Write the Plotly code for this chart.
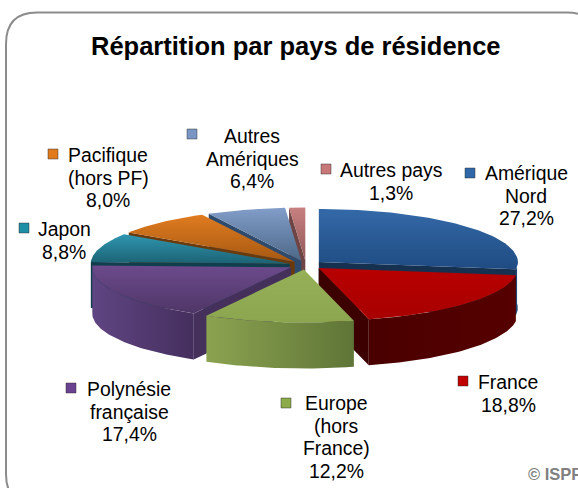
import numpy as np
import plotly.graph_objects as go

categories = ["Amérique Nord", "France", "Europe (hors France)", "Polynésie française",
              "Japon", "Pacifique (hors PF)", "Autres Amériques", "Autres pays"]
values = [27.2, 18.8, 12.2, 17.4, 8.8, 8.0, 6.4, 1.3]
label_names = [["Amérique", "Nord"], ["France"], ["Europe", "(hors", "France)"], ["Polynésie", "française"],
               ["Japon"], ["Pacifique", "(hors PF)"], ["Autres", "Amériques"], ["Autres pays"]]
title_text = "Répartition par pays de résidence"
credit_text = "© ISPF"

# styles: top gradient (far, near), cut face, wall gradient (left, right), key, rim
top_colors = [("#3469a8", "#1f4b82"), ("#b80000", "#a80000"), ("#96b058", "#8ca650"),
              ("#6c4a8c", "#4e3666"), ("#2f96b0", "#1c6274"), ("#e07c20", "#a65812"),
              ("#829dc8", "#4c6888"), ("#c88080", "#905858")]
face_colors = ["#16304f", "#3c0000", "#5f7537", "#44305a", "#103e4d", "#6a3a0c", "#2e4a6c", "#6e4444"]
wall_colors = [("#1f4b82", "#173a66"), ("#4a0000", "#560000"), ("#8ba350", "#5f7537"),
               ("#5f4582", "#452f5e"), ("#1c6274", "#145060"), ("#a65812", "#804410"),
               ("#4c6888", "#3c5470"), ("#905858", "#704444")]
key_colors = ["#2f67a8", "#c00000", "#8cac4a", "#6a4290", "#1f8fa8", "#e07a1c", "#7a96c4", "#c87878"]
# geometry / layout constants (pixels)
CX, CY, RX, RY, DEPTH = 306, 265, 199, 53, 46
PULL_X, PULL_Y = 17, 4.5
LINE_H = 22.7
key_xy = [(470, 173), (463, 381), (286, 403), (71, 388), (24, 228), (53, 154), (192, 134), (326, 169)]
label_xy = [(526, 173), (508, 382), (336, 403), (129, 389), (64, 229), (108, 155), (252, 136), (391, 170)]

fig = go.Figure()

total = sum(values)
edges = np.concatenate([[0.0], np.cumsum(values)]) / total * 2 * np.pi
mids = (edges[:-1] + edges[1:]) / 2
order = np.argsort(-np.cos(mids))


def poly(xs, ys, gradient=None, color=None):
    kw = dict(x=xs, y=ys, mode="lines", line=dict(width=0), fill="toself",
              hoverinfo="skip", showlegend=False)
    if gradient:
        kw["fillgradient"] = dict(type=gradient[0],
                                  colorscale=[[0, gradient[1]], [1, gradient[2]]])
    else:
        kw["fillcolor"] = color
    fig.add_trace(go.Scatter(**kw))


for i in order:
    a0, a1, m = edges[i], edges[i + 1], mids[i]
    ax = CX + PULL_X * np.sin(m)
    ay = CY - PULL_Y * np.cos(m)
    px = lambda t: ax + RX * np.sin(t)
    py = lambda t: ay - RY * np.cos(t)
    # outer wall
    lo, hi = max(a0, np.radians(85)), min(a1, np.radians(275))
    if hi > lo:
        t = np.linspace(lo, hi, 60)
        xs = np.concatenate([px(t), px(t)[::-1], px(t)[:1]])
        ys = np.concatenate([py(t), py(t)[::-1] + DEPTH, py(t)[:1]])
        poly(xs, ys, gradient=("horizontal", wall_colors[i][0], wall_colors[i][1]))
    # radial cut faces that look toward the viewer
    for t, visible in ((a0, np.sin(a0) < 0), (a1, np.sin(a1) > 0)):
        if visible:
            poly([ax, px(t), px(t), ax, ax],
                 [ay, py(t), py(t) + DEPTH, ay + DEPTH, ay], color=face_colors[i])
    # top
    t = np.linspace(a0, a1, 80)
    poly(np.concatenate([[ax], px(t), [ax]]), np.concatenate([[ay], py(t), [ay]]),
         gradient=("vertical", top_colors[i][1], top_colors[i][0]))

# legend keys and labels
for name, v, col, (kx, ky), (lx, ly) in zip(label_names, values, key_colors, key_xy, label_xy):
    fig.add_trace(go.Scatter(x=[kx], y=[ky], mode="markers", hoverinfo="skip", showlegend=False,
                             marker=dict(symbol="square", size=10, color=col,
                                         line=dict(width=1, color="rgba(40,40,40,0.45)"))))
    for k, line in enumerate(name + [f"{v:.1f}%".replace(".", ",")]):
        fig.add_annotation(x=lx, y=ly + k * LINE_H, xref="x", yref="y", showarrow=False,
                           text=line, font=dict(family="Liberation Sans", size=19.4, color="#000000"))

fig.add_annotation(x=296, y=46, xref="x", yref="y", showarrow=False, text=f"<b>{title_text}</b>",
                   font=dict(family="Liberation Sans", size=25.5, color="#000000"))
fig.add_annotation(x=526, y=474, xref="x", yref="y", showarrow=False, xanchor="left",
                   text=f"<b>{credit_text}</b>",
                   font=dict(family="Liberation Sans", size=16.5, color="#808080"))

frame = ("M 6 44 Q 6 12.5 37 12.5 L 567 12.5 Q 598 12.5 598 44 L 598 474 Q 598 505 567 505 "
         "L 37 505 Q 6 505 6 474 Z")
fig.update_layout(
    width=578, height=488, autosize=False,
    margin=dict(l=0, r=0, t=0, b=0),
    paper_bgcolor="#ffffff", plot_bgcolor="#ffffff",
    showlegend=False,
    xaxis=dict(range=[0, 578], visible=False, fixedrange=True),
    yaxis=dict(range=[488, 0], visible=False, fixedrange=True),
    shapes=[dict(type="path", path=frame, xref="x", yref="y", layer="below",
                 line=dict(color="#8c8c8c", width=2), fillcolor="#ffffff")],
)
fig.write_html("out.html", config={"displayModeBar": False},
               post_script="document.body.style.margin='0';document.documentElement.style.overflow='hidden';")
